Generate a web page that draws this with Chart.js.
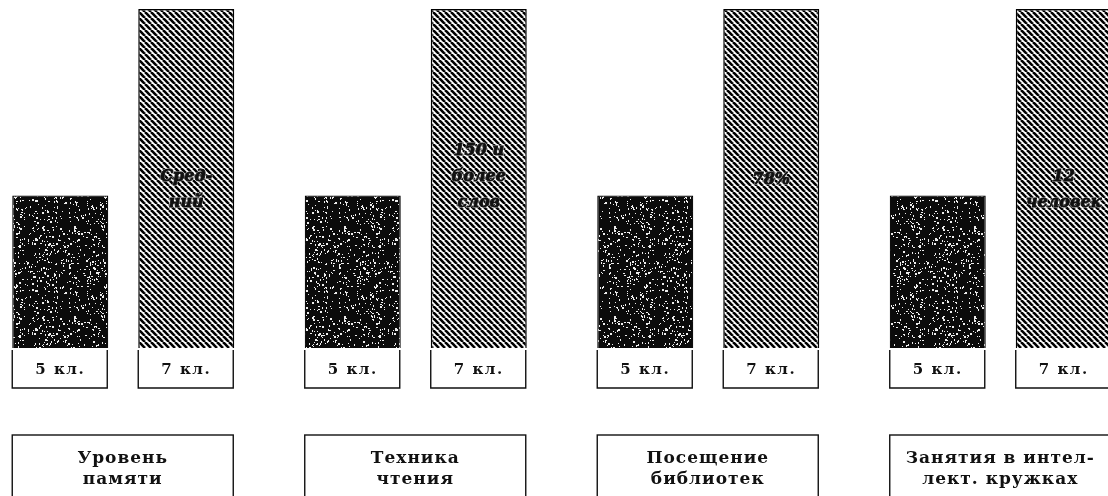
<!DOCTYPE html>
<html>
<head>
<meta charset="utf-8">
<script src="https://cdn.jsdelivr.net/npm/chart.js@4"></script>
<style>
  html, body { margin: 0; padding: 0; background: #fff; overflow: hidden; }
  #wrap { position: relative; width: 1108px; height: 496px; overflow: hidden; }
  #chart { position: absolute; left: -23px; top: 0; }
</style>
</head>
<body>
<div id="wrap"><canvas id="chart" width="1170" height="496"></canvas></div>
<script>
const groups = [
  ["Уровень", "памяти"],
  ["Техника", "чтения"],
  ["Посещение", "библиотек"],
  ["Занятия в интел-", "лект. кружках"]
];
const classes = ["5 кл.", "7 кл."];
const grade5 = [45, 45, 45, 45];
const grade7 = [100, 100, 100, 100];
const notes = [
  ["Сред-", "ний"],
  ["150 и", "более", "слов"],
  ["78%"],
  ["12", "человек"]
];

// тёмная "зернистая" заливка
function speckle() {
  const c = document.createElement("canvas");
  c.width = 90; c.height = 90;
  const g = c.getContext("2d");
  g.fillStyle = "#0b0b0b";
  g.fillRect(0, 0, 90, 90);
  let s = 12345;
  const rnd = () => { s = (s * 1103515245 + 12345) % 2147483648; return s / 2147483648; };
  g.fillStyle = "#eeeeee";
  for (let i = 0; i < 520; i++) {
    const w = rnd() < 0.75 ? 1 : 2;
    g.fillRect(Math.floor(rnd() * 90), Math.floor(rnd() * 90), w, rnd() < 0.65 ? 1 : 2);
  }
  return g.createPattern(c, "repeat");
}

// косая штриховка
function hatch() {
  const s = 6;
  const c = document.createElement("canvas");
  c.width = s; c.height = s;
  const g = c.getContext("2d");
  g.fillStyle = "#fff";
  g.fillRect(0, 0, s, s);
  g.strokeStyle = "#000";
  g.lineWidth = 2.6;
  for (let k = -1; k <= 1; k++) {
    g.beginPath();
    g.moveTo(k * s, 0);
    g.lineTo(k * s + s, s);
    g.stroke();
  }
  return g.createPattern(c, "repeat");
}

const boxes = {
  id: "boxes",
  afterDatasetsDraw(chart) {
    const ctx = chart.ctx;
    const m0 = chart.getDatasetMeta(0).data;
    const m1 = chart.getDatasetMeta(1).data;
    ctx.save();
    ctx.fillStyle = "#111";
    ctx.textAlign = "center";
    groups.forEach((lines, i) => {
      const bars = [m0[i], m1[i]];
      ctx.strokeStyle = "#111";
      ctx.lineWidth = 1.4;
      ctx.textBaseline = "alphabetic";
      // подписи классов
      bars.forEach((b, j) => {
        const l = b.x - b.width / 2, r = b.x + b.width / 2 - 1;
        const t = b.base + 2, bt = b.base + 40;
        ctx.beginPath();
        ctx.moveTo(l, t); ctx.lineTo(l, bt); ctx.lineTo(r, bt); ctx.lineTo(r, t);
        ctx.stroke();
        ctx.font = "bold 15px 'DejaVu Serif'";
        ctx.letterSpacing = "1.5px";
        ctx.fillText(classes[j], b.x, b.base + 26);
      });
      // подпись группы
      const gl = bars[0].x - bars[0].width / 2;
      const gr = bars[1].x + bars[1].width / 2 - 1;
      const gt = bars[0].base + 87;
      ctx.strokeRect(gl, gt, gr - gl, chart.height);
      ctx.font = "bold 17px 'DejaVu Serif'";
      ctx.letterSpacing = "1px";
      lines.forEach((txt, k) => ctx.fillText(txt, (gl + gr) / 2, gt + 28 + k * 21));
      // надпись на столбике 7 кл.
      const b = bars[1];
      const n = notes[i];
      ctx.font = "italic bold 16px 'DejaVu Serif'";
      ctx.letterSpacing = "0px";
      ctx.textBaseline = "middle";
      n.forEach((txt, k) => {
        const y = n.length === 1 ? 180 : 203 - (n.length - 1 - k) * 26;
        ctx.lineWidth = 2;
        ctx.strokeStyle = "rgba(255,255,255,0.6)";
        ctx.strokeText(txt, b.x, y);
        ctx.lineWidth = 0.8;
        ctx.strokeStyle = "#000";
        ctx.strokeText(txt, b.x, y);
        ctx.fillText(txt, b.x, y);
      });
    });
    ctx.restore();
  }
};

window.onload = () => {
  new Chart(document.getElementById("chart"), {
    type: "bar",
    data: {
      labels: groups.map(g => g.join(" ")),
      datasets: [
        {
          label: classes[0],
          data: grade5,
          backgroundColor: speckle(),
          borderColor: "#000",
          borderWidth: 1.2,
          categoryPercentage: 0.8615,
          barPercentage: 0.762
        },
        {
          label: classes[1],
          data: grade7,
          backgroundColor: hatch(),
          borderColor: "#000",
          borderWidth: 1.5,
          categoryPercentage: 0.8615,
          barPercentage: 0.762
        }
      ]
    },
    options: {
      responsive: false,
      animation: false,
      devicePixelRatio: 1,
      layout: { padding: { top: 9, bottom: 148, left: 0, right: 0 } },
      plugins: { legend: { display: false }, tooltip: { enabled: false } },
      scales: {
        x: { display: false },
        y: { display: false, min: 0, max: 100 }
      }
    },
    plugins: [boxes]
  });
};
</script>
</body>
</html>
